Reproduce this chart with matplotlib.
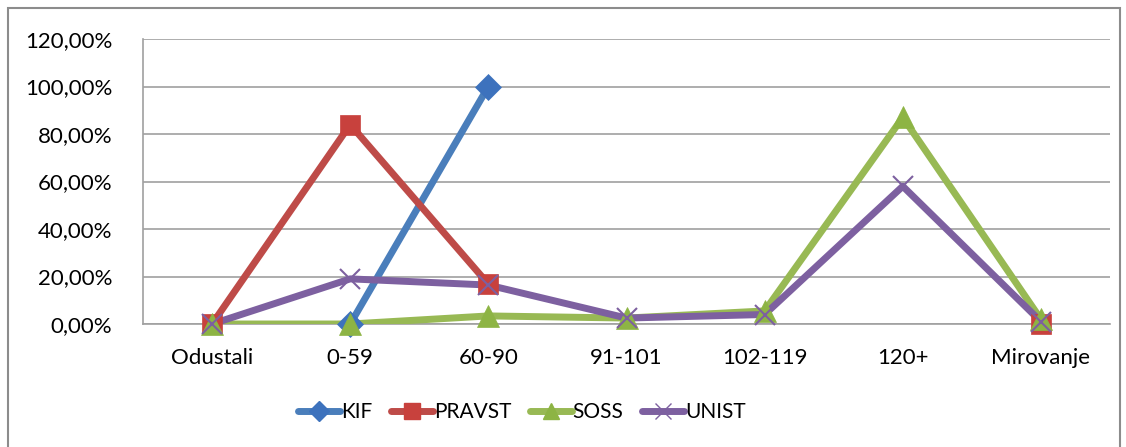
import numpy as np
import matplotlib
matplotlib.use("Agg")
import matplotlib.pyplot as plt
from matplotlib.patches import Rectangle
from matplotlib.ticker import FuncFormatter
from matplotlib.lines import Line2D

categories = ["Odustali", "0-59", "60-90", "91-101", "102-119", "120+", "Mirovanje"]
kif = [np.nan, 0.0, 100.0, np.nan, np.nan, np.nan, np.nan]
pravst = [0.0, 84.0, 16.8, np.nan, np.nan, np.nan, 0.0]
soss = [0.0, 0.0, 3.4, 2.5, 5.5, 87.0, 2.0]
unist = [0.0, 19.0, 16.4, 2.5, 4.0, 58.0, 1.0]
yticks = [0, 20, 40, 60, 80, 100, 120]

plt.rcParams['font.family'] = ['Lato', 'DejaVu Sans']

W, H = 1126, 447
fig = plt.figure(figsize=(W / 100, H / 100), dpi=100)
fig.patch.set_facecolor('white')
fig.add_artist(Rectangle((8 / W, -0.01), (1120 - 8) / W, (H - 8) / H + 0.01,
                         transform=fig.transFigure, fill=False,
                         edgecolor='#8c8c8c', linewidth=1.5))

left, right, top, bottom = 143, 1110, 39, 324
ax = fig.add_axes([left / W, 1 - bottom / H, (right - left) / W, (bottom - top) / H])
x = np.arange(len(categories))

series = [
    ("KIF", kif, '#4A7EBB', '#3D72BD', 'D', 13),
    ("PRAVST", pravst, '#BE4B48', '#C8413D', 's', 15),
    ("SOSS", soss, '#98B954', '#8DB444', '^', 16),
    ("UNIST", unist, '#7D60A0', '#7D60A0', 'x', 15),
]
for name, vals, lc, mc, mk, ms in series:
    ax.plot(x, vals, color=lc, linewidth=5, solid_capstyle='round', zorder=3,
            clip_on=True, label=name)
    ax.plot(x, vals, linestyle='none', marker=mk, markersize=ms,
            markerfacecolor=mc, markeredgecolor=mc, markeredgewidth=1.5 if mk == 'x' else 0.5,
            zorder=4, clip_on=False)

ax.set_xlim(-0.5, len(categories) - 0.5)
ax.set_ylim(0, 120)
ax.set_yticks(yticks)
ax.yaxis.set_major_formatter(FuncFormatter(lambda v, p: f"{v:.2f}%".replace('.', ',')))
ax.set_xticks(x)
ax.set_xticklabels(categories)
ax.tick_params(axis='both', length=0, labelsize=16, colors='black')
ax.tick_params(axis='x', pad=17)
ax.tick_params(axis='y', pad=22)
ax.grid(axis='y', color='#a0a0a0', linewidth=1.2)
ax.set_axisbelow(True)
for s in ['top', 'right']:
    ax.spines[s].set_visible(False)
for s in ['left', 'bottom']:
    ax.spines[s].set_color('#a0a0a0')
    ax.spines[s].set_linewidth(1.2)

handles = [Line2D([0], [0], color=lc, linewidth=5, marker=mk, markersize=ms * 0.75,
                  markerfacecolor=mc, markeredgecolor=mc, solid_capstyle='round')
           for name, vals, lc, mc, mk, ms in series]
fig.legend(handles, [s[0] for s in series], loc='center', bbox_to_anchor=(522 / W, 1 - 412 / H),
           ncol=4, frameon=False, fontsize=15, handlelength=2.0, handletextpad=0.05,
           columnspacing=0.9)

fig.savefig('out.png', dpi=100)
